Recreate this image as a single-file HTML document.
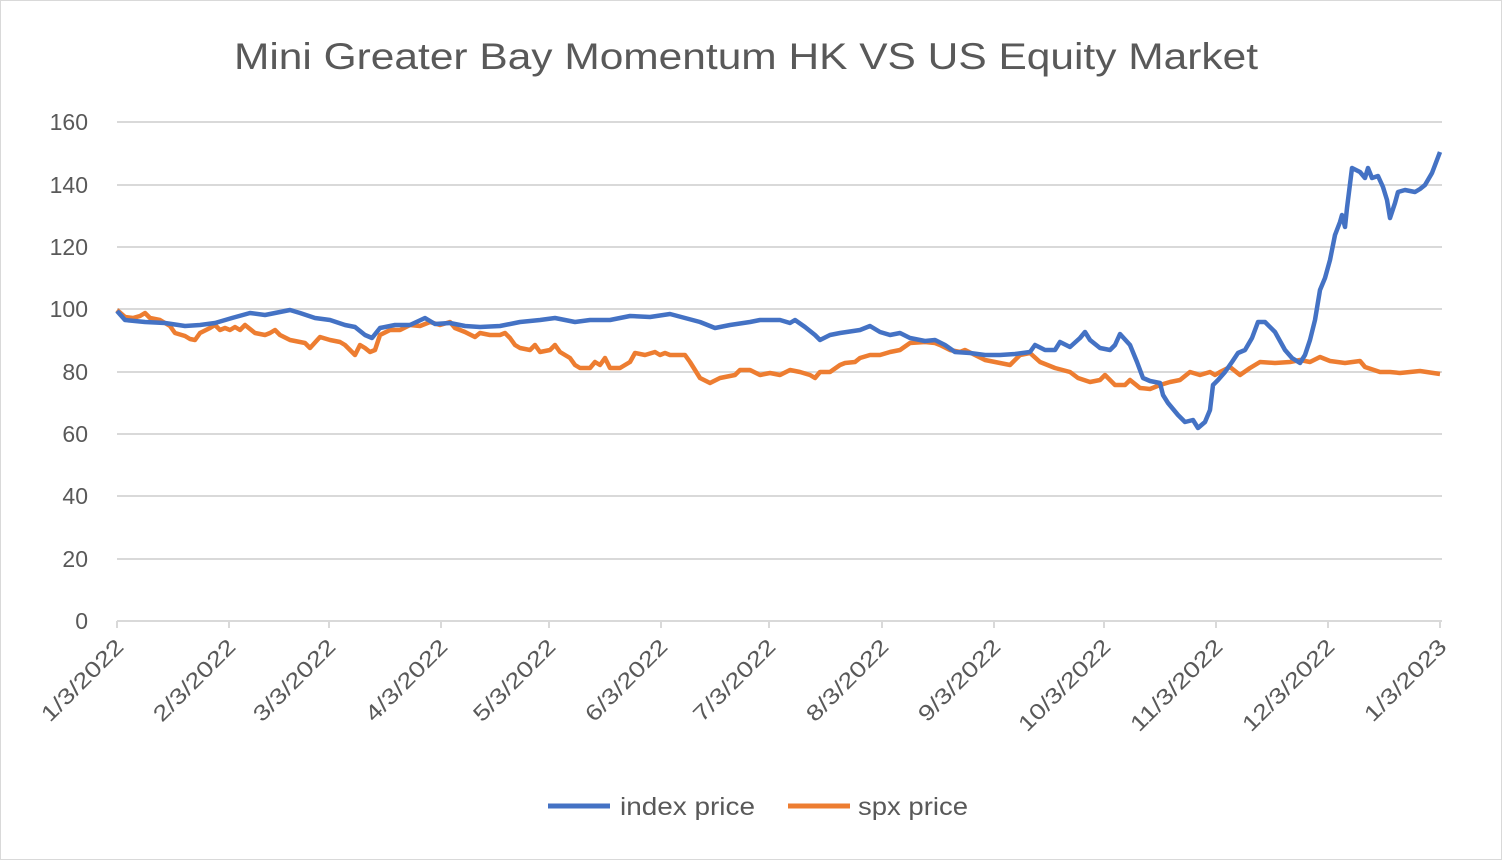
<!DOCTYPE html>
<html><head><meta charset="utf-8"><style>
body{margin:0;background:#fff}
svg{display:block}
text{font-family:"Liberation Sans",sans-serif;fill:#595959}
</style></head><body>
<svg width="1503" height="861" viewBox="0 0 1503 861">
<rect x="0.5" y="0.5" width="1501" height="859" fill="#fff" stroke="#d9d9d9"/>
<text x="234" y="69" font-size="37" textLength="1024" lengthAdjust="spacingAndGlyphs">Mini Greater Bay Momentum HK  VS US Equity Market</text>
<g stroke="#d9d9d9" stroke-width="2">
<line x1="117" x2="1442" y1="122" y2="122"/><line x1="117" x2="1442" y1="185" y2="185"/>
<line x1="117" x2="1442" y1="247" y2="247"/><line x1="117" x2="1442" y1="309" y2="309"/>
<line x1="117" x2="1442" y1="372" y2="372"/><line x1="117" x2="1442" y1="434" y2="434"/>
<line x1="117" x2="1442" y1="496" y2="496"/><line x1="117" x2="1442" y1="559" y2="559"/>
<line x1="117" x2="1442" y1="621" y2="621"/>
<g><line x1="117" x2="117" y1="621" y2="628"/><line x1="229" x2="229" y1="621" y2="628"/><line x1="329" x2="329" y1="621" y2="628"/><line x1="441" x2="441" y1="621" y2="628"/><line x1="549" x2="549" y1="621" y2="628"/><line x1="661" x2="661" y1="621" y2="628"/><line x1="769" x2="769" y1="621" y2="628"/><line x1="882" x2="882" y1="621" y2="628"/><line x1="994" x2="994" y1="621" y2="628"/><line x1="1104" x2="1104" y1="621" y2="628"/><line x1="1216" x2="1216" y1="621" y2="628"/><line x1="1328" x2="1328" y1="621" y2="628"/><line x1="1440" x2="1440" y1="621" y2="628"/></g>
</g>
<g font-size="23" text-anchor="end">
<text x="88" y="130">160</text><text x="88" y="193">140</text><text x="88" y="255">120</text><text x="88" y="317">100</text><text x="88" y="380">80</text><text x="88" y="442">60</text><text x="88" y="504">40</text><text x="88" y="567">20</text><text x="88" y="629">0</text>
</g>
<g font-size="22" text-anchor="end">
<text transform="translate(125,648) rotate(-45)" textLength="106" lengthAdjust="spacingAndGlyphs">1/3/2022</text>
<text transform="translate(237,648) rotate(-45)" textLength="106" lengthAdjust="spacingAndGlyphs">2/3/2022</text>
<text transform="translate(337,648) rotate(-45)" textLength="106" lengthAdjust="spacingAndGlyphs">3/3/2022</text>
<text transform="translate(449,648) rotate(-45)" textLength="106" lengthAdjust="spacingAndGlyphs">4/3/2022</text>
<text transform="translate(557,648) rotate(-45)" textLength="106" lengthAdjust="spacingAndGlyphs">5/3/2022</text>
<text transform="translate(669,648) rotate(-45)" textLength="106" lengthAdjust="spacingAndGlyphs">6/3/2022</text>
<text transform="translate(777,648) rotate(-45)" textLength="106" lengthAdjust="spacingAndGlyphs">7/3/2022</text>
<text transform="translate(890,648) rotate(-45)" textLength="106" lengthAdjust="spacingAndGlyphs">8/3/2022</text>
<text transform="translate(1002,648) rotate(-45)" textLength="106" lengthAdjust="spacingAndGlyphs">9/3/2022</text>
<text transform="translate(1112,648) rotate(-45)" textLength="120" lengthAdjust="spacingAndGlyphs">10/3/2022</text>
<text transform="translate(1224,648) rotate(-45)" textLength="120" lengthAdjust="spacingAndGlyphs">11/3/2022</text>
<text transform="translate(1336,648) rotate(-45)" textLength="120" lengthAdjust="spacingAndGlyphs">12/3/2022</text>
<text transform="translate(1448,648) rotate(-45)" textLength="106" lengthAdjust="spacingAndGlyphs">1/3/2023</text>
</g>
<polyline fill="none" stroke="#ed7d31" stroke-width="4.5" stroke-linejoin="round" points="117,310 125,317 133,318 140,316 145,313 150,318 160,320 170,326 175,333 185,336 190,339 195,340 200,333 210,328 215,325 220,330 225,328 230,330 235,327 240,330 245,325 255,333 265,335 270,333 275,330 280,335 290,340 295,341 300,342 305,343 310,348 320,337 330,340 340,342 345,345 350,350 355,355 360,345 365,348 370,352 375,350 380,335 390,330 400,330 410,325 420,326 430,322 440,325 450,322 455,328 465,332 475,337 480,333 490,335 500,335 505,333 510,338 515,345 520,348 530,350 535,345 540,352 550,350 555,345 560,352 565,355 570,358 575,365 580,368 590,368 595,362 600,365 605,358 610,368 620,368 630,362 635,353 645,355 655,352 660,355 665,353 670,355 685,355 690,362 695,370 700,378 710,383 720,378 735,375 740,370 750,370 760,375 770,373 780,375 790,370 800,372 810,375 815,378 820,372 830,372 840,365 845,363 855,362 860,358 870,355 880,355 890,352 900,350 910,343 925,342 935,343 940,345 950,350 960,352 965,350 975,355 985,360 995,362 1010,365 1020,355 1030,353 1040,362 1055,368 1070,372 1078,378 1090,382 1100,380 1105,375 1115,385 1125,385 1130,380 1140,388 1150,389 1160,385 1170,382 1180,380 1190,372 1200,375 1210,372 1215,375 1220,372 1230,367 1240,375 1250,368 1260,362 1275,363 1290,362 1300,360 1310,362 1320,357 1330,361 1345,363 1360,361 1365,367 1380,372 1390,372 1400,373 1420,371 1440,374"/>
<polyline fill="none" stroke="#4472c4" stroke-width="4.5" stroke-linejoin="round" points="117,311 125,320 145,322 165,323 185,326 200,325 215,323 232,318 250,313 265,315 290,310 300,313 315,318 330,320 345,325 355,327 365,335 372,338 380,328 395,325 410,325 425,318 435,324 450,323 465,326 480,327 500,326 520,322 540,320 555,318 565,320 575,322 590,320 610,320 630,316 650,317 670,314 685,318 700,322 715,328 730,325 750,322 760,320 780,320 790,323 795,320 805,327 815,335 820,340 830,335 840,333 860,330 870,326 880,332 890,335 900,333 910,338 925,341 935,340 945,345 955,352 970,353 985,355 1000,355 1015,354 1030,352 1035,345 1045,350 1055,350 1060,342 1070,347 1080,338 1085,332 1090,340 1100,348 1110,350 1115,345 1120,334 1130,345 1137,362 1143,378 1150,381 1160,383 1163,395 1168,403 1178,415 1185,422 1193,420 1198,428 1205,422 1210,410 1213,385 1218,380 1225,372 1232,362 1238,353 1245,350 1252,338 1258,322 1265,322 1275,332 1285,350 1292,358 1300,363 1305,355 1310,340 1315,320 1320,290 1325,278 1330,260 1335,235 1340,222 1342,215 1345,227 1347,208 1352,168 1360,172 1365,178 1368,168 1372,178 1378,176 1383,187 1387,200 1390,218 1395,203 1398,192 1405,190 1415,192 1420,189 1425,185 1432,173 1440,152"/>
<line x1="548" x2="610" y1="806" y2="806" stroke="#4472c4" stroke-width="5"/>
<text x="620" y="815" font-size="25" textLength="135" lengthAdjust="spacingAndGlyphs">index price</text>
<line x1="788" x2="850" y1="806" y2="806" stroke="#ed7d31" stroke-width="5"/>
<text x="858" y="815" font-size="25" textLength="110" lengthAdjust="spacingAndGlyphs">spx price</text>
</svg>
</body></html>
